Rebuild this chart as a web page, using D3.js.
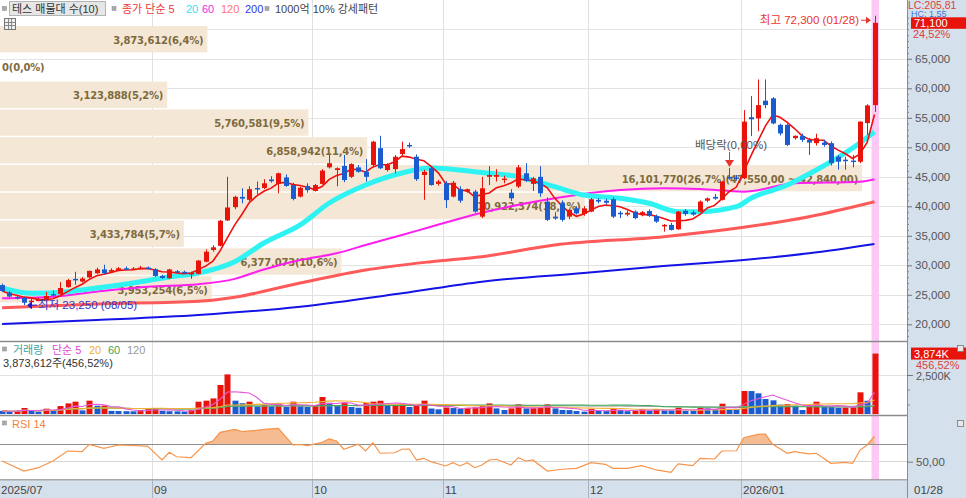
<!DOCTYPE html>
<html lang="ko">
<head>
<meta charset="utf-8">
<title>테스 일봉</title>
<script src="https://cdn.jsdelivr.net/npm/d3@7"></script>
<style>
  body { margin: 0; background: #fff; }
  #graf svg { display: block; }
</style>
</head>
<body>
<div id="graf"></div>
<script>
// ---- data ----
firstLabel = '2025/07'
monthIdx = [21, 43, 61, 81, 102]
monthLab = ['09', '10', '11', '12', '2026/01']
lastLabel = '01/28'

openP = [26650,25400,24650,24450,23800,24100,24000,25100,25150,26300,
  27700,27250,27950,28650,29300,28900,29200,29500,29400,29450,
  29600,29350,28200,27800,29000,28900,28600,28550,30600,32600,
  33300,37600,39850,41600,41100,43100,43100,44550,43800,44900,
  43600,41650,43450,42600,43800,46600,46150,46850,45000,46600,
  45850,47000,49850,46150,46300,48850,50400,48400,45300,46450,
  43800,43900,41650,42900,42500,42500,38250,45000,45000,44600,
  42300,43350,45600,43800,45000,40800,38250,40500,38250,39650,
  38700,39100,41100,40950,41200,38900,38600,39100,38600,39200,
  38350,36650,36850,36100,39250,38950,39100,40950,41600,41100,
  45000,44900,44750,55100,54900,57900,58300,53800,53800,51550,
  51900,51250,50700,50800,50700,48400,47900,47750,47550,54100,
  57150]
highP = [26900,25600,24900,24600,24300,24500,25500,25700,27150,27700,
  28900,28000,29100,29600,30100,29500,29700,29800,29700,29900,
  29800,29500,28400,29400,29200,29100,28900,30900,32700,33400,
  37700,45000,41800,43050,43400,44200,44600,45100,45700,45400,
  44000,43300,43900,43800,46300,48700,46600,48700,47300,47000,
  48000,51100,51950,47300,48700,50950,50800,48800,46200,46800,
  44500,44300,44300,43400,43000,42800,45000,46800,46300,45200,
  42900,47000,47300,45000,46800,41500,39000,41000,39500,40000,
  40000,41400,41400,41300,41500,39200,39300,39300,39200,39500,
  38600,37000,37200,39200,39500,39300,41000,41500,42100,44300,
  46500,45300,56300,58700,61500,61500,58500,54000,54000,52000,
  52300,51600,52300,51300,51000,48700,48400,48700,54400,57300,
  72300]
lowP = [25500,24500,24200,23250,23600,23900,23900,24700,25000,26200,
  26700,27100,27800,28500,28500,28800,29000,29300,29200,29300,
  29300,28000,27700,27700,28700,28600,27700,28450,30500,32300,
  33200,37500,39500,40500,40900,42000,42900,44000,42200,43300,
  41000,41500,42300,42500,43700,46400,43400,44100,44800,45700,
  44200,46800,46300,45900,45600,48600,49900,44300,41100,43500,
  43500,39700,41500,40600,42300,38900,38000,43600,44200,43900,
  40900,43100,44100,42600,41600,37500,37700,37400,37800,38600,
  38400,39000,40500,40300,38000,38000,38300,37800,38300,38200,
  37200,35700,35900,36000,38400,38400,39000,40700,41100,41000,
  44500,44400,44600,51900,52700,56600,53900,52000,50200,51300,
  50900,48700,50300,50100,46900,46200,46200,46600,47300,52100,
  56000]
closeP = [25650,24700,24400,23650,24000,24200,24800,25000,26150,27500,
  27600,27750,29050,29300,28650,29200,29500,29400,29450,29600,
  29400,28200,27850,29300,28800,28750,28700,30800,32300,33050,
  37550,39800,41600,41300,42900,43050,43900,44250,45600,43450,
  41250,43150,42750,43600,46050,47300,46450,44450,47150,45850,
  45000,50950,46450,47000,48400,49700,50150,44600,45850,43600,
  44200,41050,44000,40950,42900,39100,43050,45300,45300,44700,
  41350,46600,44350,44750,42200,37700,37950,37700,39400,38800,
  39650,41200,40800,40600,38250,38700,38900,38000,39000,38350,
  37400,36850,36000,39100,38700,38600,40800,41350,41300,44200,
  44700,44750,54350,54750,57150,57150,54050,52350,50400,51950,
  51250,50800,51550,50400,47300,47550,47700,47550,54350,57100,
  71100]
// volume in thousands of shares
volK = [200,150,200,385,200,150,340,200,510,680,
  790,230,855,530,540,200,190,180,170,260,
  330,340,200,180,170,160,250,790,855,1000,
  1860,2540,855,690,790,500,600,500,690,450,
  790,500,450,550,1090,720,550,720,450,400,
  720,790,850,550,600,650,450,520,855,350,
  300,420,380,330,400,420,510,680,360,256,
  360,620,360,370,380,620,360,256,250,190,
  150,320,190,185,320,256,180,200,320,190,
  320,230,225,400,210,205,400,360,320,660,
  320,310,1475,1470,1325,960,875,600,640,535,
  256,576,790,470,440,400,410,420,1390,849,
  3874]
volLast = 3873612

// longer moving averages (candle index, price)
ma20Idx = [0,4,9,13,18,23,27,32,36,41,45,50,55,59,66,71,76,80,85,89,93,96,101,103,108,112,117,120]
ma20Val = [26150,25250,25530,26150,27000,28020,28700,30610,33780,36840,40560,43620,45650,46490,45730,45020,43320,41920,41360,40510,39090,39090,39930,41360,43610,46150,49880,52650]
ma60Idx = [0,7,13,20,27,32,36,41,46,50,55,59,66,76,85,91,96,102,109,118,120]
ma60Val = [24410,24680,25530,26370,26800,27700,29300,30900,32030,33440,35140,36540,38900,41360,42760,43050,42930,42480,43900,44170,44580]
ma120Idx = [0,13,27,32,41,50,59,66,76,91,102,111,120]
ma120Val = [22810,23440,23900,24600,27000,29200,30610,31460,33440,34850,36440,38240,40780]
ma200Idx = [0,13,27,41,55,66,80,91,102,111,120]
ma200Val = [20050,20730,21580,22980,25250,27220,28700,29880,30900,32030,33610]

// RSI 14
rsiIdx = [0,3,5,7,9,11,12,14,16,20,22,23,24,26,28,29,30,32,33,35,36,38,40,41,42,44,45,46,47,49,
  50,51,52,54,55,56,57,58,59,61,62,63,64,65,66,67,68,70,71,72,73,75,77,79,81,83,84,86,88,90,
  92,93,95,96,98,99,101,102,104,105,106,108,109,111,112,114,116,117,118,119,120]
rsiVal = [50.8,39.3,43.1,50.8,62.3,61.5,70,65.4,69.2,68,52,60.8,55.7,54.6,71.1,73.8,83.8,87.2,84.5,86.1,87.2,88.4,69.2,70,68.4,72.3,76.1,73.8,64.3,70,
  62.3,71.8,59.7,60.3,64.3,64.6,52,53.9,50,45.1,48.9,45.1,48.9,43.1,46.2,52,52.8,46.2,54.6,50.8,52,39.3,41.3,42.4,48.9,47,42.4,42.4,45.4,40.5,
  37.8,47.4,45.4,53.9,53.1,62.3,62.6,77.6,81.5,81.8,70,59.7,61.5,58.9,59.7,48.2,49.3,48.2,63.4,69.2,79.5]

// volume profile (10 rows, top to bottom)
pvTop = [70600,65890,61180,56470,51760,47050,42340,37630,32920,28210]
pvBot = [65890,61180,56470,51760,47050,42340,37630,32920,28210,23500]
pvVol = [3873612,0,3123888,5760581,6858942,16101770,10922374,3433784,6377073,3953254]
pvPct = [6.4,0,5.2,9.5,11.4,26.7,18.1,5.7,10.6,6.5]
pvRange = [47550, 42840]   // range printed on the biggest row

priceTicks = [20000,25000,30000,35000,40000,45000,50000,55000,60000,65000]
gridTicks = [20000,25000,30000,35000,40000,45000,50000,55000,60000,65000,70000]

lowIdx = 3, lowDate = '08/05'
highIdx = 120, highDate = '01/28'
divIdx = 100
volRatio = '456,52%'
lastChg = '24,52%'
lcText = 'LC:205,81'
hcText = 'HC: 1,55'

// ---- setup ----
W = 966
H = 498
plotR = 907
red = '#e8140c'
blue = '#1a5cd0'
panelBg = '#d5e0ed'

svg = d3.select('#graf').append('svg')
  .attr('width', W)
  .attr('height', H)
  .style('font-family', "'Liberation Sans', 'Noto Sans CJK KR', sans-serif")

svg.append('rect').attr('width', W).attr('height', H).attr('fill', '#fff')

defs = svg.append('defs')
defs.append('clipPath').attr('id', 'clipMain')
  .append('rect').attr('x', 0).attr('y', 0).attr('width', plotR).attr('height', 341)
defs.append('clipPath').attr('id', 'clipVol')
  .append('rect').attr('x', 0).attr('y', 342).attr('width', plotR).attr('height', 73)

x = d3.scaleLinear().domain([0, closeP.length - 1]).range([2.1, 874.5])
y = d3.scaleLinear().domain([20000, 65000]).range([324.3, 58.8])
yVol = d3.scaleLinear().domain([0, 2500]).range([414, 375])
yRsi = d3.scaleLinear().domain([50, 70]).range([461.7, 444.3])
xPv = d3.scaleLinear().domain([0, d3.max(pvVol)]).range([0, 862])

px = i => Math.round(x(i))
fmtDec = (v, f) => d3.format(f)(v).replace(/\.(\d+)$/, ',$1')

// ---- grid ----
grid = svg.append('g')
grid.selectAll('line.h').data(gridTicks).join('line')
  .attr('class', 'h')
  .attr('x1', 0).attr('x2', plotR)
  .attr('y1', d => Math.round(y(d)) + 0.5).attr('y2', d => Math.round(y(d)) + 0.5)
  .attr('stroke', '#e3e3e3')
grid.selectAll('line.v').data(monthIdx).join('line')
  .attr('class', 'v')
  .attr('x1', d => px(d) - 2.5).attr('x2', d => px(d) - 2.5)
  .attr('y1', 0).attr('y2', 480)
  .attr('stroke', '#e0e0e0')
grid.append('line')
  .attr('x1', 0).attr('x2', plotR).attr('y1', 375.5).attr('y2', 375.5)
  .attr('stroke', '#e3e3e3')
grid.append('line')
  .attr('x1', 0).attr('x2', plotR).attr('y1', 461.5).attr('y2', 461.5)
  .attr('stroke', '#d6d6d6')

// ---- volume profile ----
pv = svg.append('g')
pv.selectAll('rect').data(pvVol).join('rect')
  .attr('x', 0)
  .attr('y', (d, k) => y(pvTop[k]) + 0.3)
  .attr('width', d => xPv(d))
  .attr('height', (d, k) => y(pvBot[k]) - y(pvTop[k]) - 1.5)
  .attr('fill', '#f4e7d5')
maxRow = pvVol.indexOf(d3.max(pvVol))
pv.selectAll('text').data(pvVol).join('text')
  .attr('x', d => xPv(d) < 60 ? 2 : xPv(d) - 4)
  .attr('y', (d, k) => (y(pvTop[k]) + y(pvBot[k])) / 2 + 4)
  .attr('text-anchor', d => xPv(d) < 60 ? 'start' : 'end')
  .attr('font-family', "'DejaVu Sans', sans-serif")
  .attr('font-weight', 'bold')
  .attr('font-size', '10px')
  .attr('letter-spacing', '-0.2px')
  .attr('fill', '#7f6a3e')
  .text((d, k) => d3.format(',')(d) + '(' + fmtDec(pvPct[k], '.1f') + '%)' +
    (k == maxRow ? '(' + fmtDec(pvRange[0], ',.2f') + ' ~ ' + fmtDec(pvRange[1], ',.2f') + ')' : ''))

// highlight of the last day
svg.append('rect')
  .attr('x', px(closeP.length - 1) - 3.5).attr('y', 0)
  .attr('width', 7.5).attr('height', 480)
  .attr('fill', '#fbc9f3')

// ---- moving averages ----
main = svg.append('g').attr('clip-path', 'url(#clipMain)')
curve = d3.line().x(d => x(d[0])).y(d => y(d[1])).curve(d3.curveMonotoneX)
maLines = [
  [ma200Idx, ma200Val, '#1414e6', 2],
  [ma120Idx, ma120Val, '#ff5a5a', 3],
  [ma60Idx, ma60Val, '#ff1ef0', 2],
  [ma20Idx, ma20Val, '#2ff2f2', 5]
]
maLines.forEach(m => {
  main.append('path')
    .attr('d', curve(m[0].map((i, k) => [i, m[1][k]])))
    .attr('fill', 'none')
    .attr('stroke', m[2])
    .attr('stroke-width', m[3])
})

// 5 day average from closes
ma5 = closeP.map((c, i) => d3.mean(closeP.slice(Math.max(0, i - 4), i + 1)))
main.append('path')
  .attr('d', d3.line().x((d, i) => x(i)).y(d => y(d))(ma5))
  .attr('fill', 'none')
  .attr('stroke', '#f01010')
  .attr('stroke-width', 1.6)

// ---- candles ----
candles = d3.range(closeP.length).map(i => ({ i: i, o: openP[i], h: highP[i], l: lowP[i], c: closeP[i] }))
cg = main.append('g')
cg.selectAll('line').data(candles).join('line')
  .attr('x1', d => px(d.i) + 0.5).attr('x2', d => px(d.i) + 0.5)
  .attr('y1', d => y(d.h)).attr('y2', d => y(d.l))
  .attr('stroke', d => d.c >= d.o ? red : blue)
cg.selectAll('rect').data(candles).join('rect')
  .attr('x', d => px(d.i) - 2)
  .attr('width', 5)
  .attr('y', d => y(Math.max(d.o, d.c)))
  .attr('height', d => Math.max(1.5, Math.abs(y(d.o) - y(d.c))))
  .attr('fill', d => d.c >= d.o ? red : blue)

// ---- annotations ----
ann = svg.append('g')
hx = px(highIdx), hy = y(highP[highIdx])
ann.append('text')
  .attr('x', hx - 16).attr('y', hy + 8.5)
  .attr('text-anchor', 'end')
  .attr('font-size', '11.5px')
  .attr('fill', '#e8342c')
  .text('최고 ' + d3.format(',')(highP[highIdx]) + ' (' + highDate + ')')
ann.append('line')
  .attr('x1', hx - 14).attr('x2', hx - 8)
  .attr('y1', hy + 4.5).attr('y2', hy + 4.5)
  .attr('stroke', '#e8342c')
ann.append('path')
  .attr('d', `M${hx - 9},${hy + 1} L${hx - 4},${hy + 4.5} L${hx - 9},${hy + 8} Z`)
  .attr('fill', '#e8342c')

lx = px(lowIdx), ly = y(lowP[lowIdx])
ann.append('path')
  .attr('d', `M${lx + 3},${ly} L${lx + 8},${ly - 4} L${lx + 8},${ly + 4} Z`)
  .attr('fill', '#1c1cc8')
ann.append('line')
  .attr('x1', lx + 8).attr('x2', lx + 13)
  .attr('y1', ly).attr('y2', ly)
  .attr('stroke', '#1c1cc8')
ann.append('text')
  .attr('x', lx + 14).attr('y', ly + 4)
  .attr('font-size', '11.5px')
  .attr('fill', '#3434c8')
  .text('최저 ' + d3.format(',')(lowP[lowIdx]) + ' (' + lowDate + ')')

dx = px(divIdx), dy = y(highP[divIdx])
ann.append('text')
  .attr('x', dx - 34).attr('y', dy - 19)
  .attr('font-size', '11.5px')
  .attr('fill', '#555')
  .text('배당락(0,00%)')
ann.append('line')
  .attr('x1', dx + 0.5).attr('x2', dx + 0.5)
  .attr('y1', dy - 16).attr('y2', dy - 6)
  .attr('stroke', '#e8342c')
ann.append('path')
  .attr('d', `M${dx - 4},${dy - 8} L${dx + 5},${dy - 8} L${dx + 0.5},${dy - 1} Z`)
  .attr('fill', '#e8342c')

// ---- volume panel ----
vg = svg.append('g').attr('clip-path', 'url(#clipVol)')
vg.selectAll('rect').data(volK).join('rect')
  .attr('x', (d, i) => px(i) - 2.5)
  .attr('width', 6)
  .attr('y', d => yVol(d))
  .attr('height', d => yVol(0) - yVol(d))
  .attr('fill', (d, i) => i > 0 && d >= volK[i - 1] ? red : blue)

volMa = (n) => volK.map((v, i) => d3.mean(volK.slice(Math.max(0, i - n + 1), i + 1)))
volLine = d3.line().x((d, i) => x(i)).y(d => yVol(d))
;[[120, '#b4b4b4'], [60, '#3fa85a'], [20, '#f2b233'], [5, '#e45ad8']].forEach(m => {
  vg.append('path')
    .attr('d', volLine(volMa(m[0])))
    .attr('fill', 'none')
    .attr('stroke', m[1])
    .attr('stroke-width', 1.1)
})

// ---- RSI panel ----
rsiPts = rsiIdx.map((i, k) => [i, rsiVal[k]])
defs.append('clipPath').attr('id', 'clipRsi')
  .append('rect').attr('x', 0).attr('y', 416).attr('width', plotR).attr('height', yRsi(70) - 416)
svg.append('path')
  .attr('clip-path', 'url(#clipRsi)')
  .attr('d', d3.area().x(d => x(d[0])).y0(yRsi(70)).y1(d => yRsi(d[1]))(rsiPts))
  .attr('fill', '#f5bc92')
svg.append('line')
  .attr('x1', 0).attr('x2', plotR).attr('y1', 444.5).attr('y2', 444.5)
  .attr('stroke', '#8e8e8e')
svg.append('path')
  .attr('d', d3.line().x(d => x(d[0])).y(d => yRsi(d[1]))(rsiPts))
  .attr('fill', 'none')
  .attr('stroke', '#f7944a')
  .attr('stroke-width', 1.2)

// ---- panel borders ----
;[341.5, 415.5, 480].forEach(v => {
  svg.append('line')
    .attr('x1', 0).attr('x2', plotR).attr('y1', v).attr('y2', v)
    .attr('stroke', '#8c8c8c').attr('stroke-width', 1.5)
})

// ---- legends ----
sq = (g, x0, y0) => g.append('rect').attr('x', x0).attr('y', y0).attr('width', 4).attr('height', 4)
  .attr('fill', '#aaa').attr('stroke', '#888').attr('stroke-width', 0.5)
leg = svg.append('g').attr('font-size', '11px')
sq(leg, 2.5, 6.5)
leg.append('rect').attr('x', 9.5).attr('y', 1.5).attr('width', 96).attr('height', 14)
  .attr('fill', '#e6e6e6').attr('stroke', '#b4b4b4')
leg.append('text').attr('x', 12).attr('y', 13).attr('fill', '#333').text('테스 매물대 수(10)')
sq(leg, 112, 6.5)
legItems = [['종가 단순 5', 122, '#f03a3a'], ['20', 186, '#2fe0ee'], ['60', 202, '#f028e8'],
  ['120', 221, '#ff7474'], ['200', 245, '#3232f0']]
legItems.forEach(t => leg.append('text').attr('x', t[1]).attr('y', 13).attr('fill', t[2]).text(t[0]))
sq(leg, 265, 6.5)
leg.append('text').attr('x', 275).attr('y', 13).attr('fill', '#444').text('1000억 10% 강세패턴')

// little table icon
ic = svg.append('g')
ic.append('rect').attr('x', 4.5).attr('y', 18.5).attr('width', 11).attr('height', 11)
  .attr('fill', '#f0f0f0').attr('stroke', '#777')
;[22.5, 25.5].forEach(v => ic.append('line').attr('x1', 5).attr('x2', 15).attr('y1', v).attr('y2', v).attr('stroke', '#888'))
;[8.5, 11.5].forEach(v => ic.append('line').attr('x1', v).attr('x2', v).attr('y1', 19).attr('y2', 29).attr('stroke', '#888'))

vleg = svg.append('g').attr('font-size', '11px')
sq(vleg, 2.5, 347)
;[['거래량', 13, '#3aa3a3'], ['단순 5', 52, '#e04ad8'], ['20', 89, '#f0b030'],
  ['60', 108, '#3aa85a'], ['120', 127, '#999']].forEach(t =>
  vleg.append('text').attr('x', t[1]).attr('y', 354).attr('fill', t[2]).text(t[0]))
vleg.append('text').attr('x', 3).attr('y', 367).attr('fill', '#333')
  .text(d3.format(',')(volLast) + '주(' + volRatio + ')')

sq(svg, 2.5, 421)
svg.append('text').attr('x', 12).attr('y', 428).attr('font-size', '11px')
  .attr('fill', '#f08040').text('RSI 14')

// ---- right axis panel ----
svg.append('rect').attr('x', plotR).attr('y', 0).attr('width', W - plotR).attr('height', H).attr('fill', panelBg)
svg.append('rect').attr('x', 0).attr('y', 480.5).attr('width', plotR).attr('height', H - 480).attr('fill', panelBg)
svg.append('line').attr('x1', plotR + 0.5).attr('x2', plotR + 0.5).attr('y1', 0).attr('y2', H)
  .attr('stroke', '#8c8c8c')

yAxis = d3.axisRight(y).tickValues(priceTicks).tickSize(5).tickPadding(3)
  .tickFormat(d3.format(','))
ax = svg.append('g').attr('transform', `translate(${plotR},0)`).call(yAxis)
ax.select('.domain').remove()
ax.selectAll('text').attr('font-size', '11.5px').attr('fill', '#555')
  .attr('font-family', "'Liberation Sans', sans-serif")
ax.selectAll('line').attr('stroke', '#777')
minor = d3.axisRight(y).tickValues(d3.range(18000, 72001, 1000)).tickSize(2).tickFormat('')
mx = svg.append('g').attr('transform', `translate(${plotR},0)`).call(minor)
mx.select('.domain').remove()
mx.selectAll('line').attr('stroke', '#888')

rp = svg.append('g').attr('font-size', '11px')
rp.append('text').attr('x', 908).attr('y', 8.5).attr('font-size', '10.5px').attr('fill', '#e0403c').text(lcText)
rp.append('text').attr('x', 911).attr('y', 16.5).attr('font-size', '9px').attr('fill', '#3a78d8').text(hcText)
cy = y(closeP[closeP.length - 1])
rp.append('rect').attr('x', 911).attr('y', cy - 5.5).attr('width', 55).attr('height', 11.5).attr('fill', red)
rp.append('text').attr('x', 914).attr('y', cy + 4.5).attr('fill', '#fff').text(d3.format(',')(closeP[closeP.length - 1]))
rp.append('text').attr('x', 913).attr('y', cy + 15).attr('fill', '#e0403c').text(lastChg)

vy = yVol(volK[volK.length - 1])
rp.append('rect').attr('x', 911).attr('y', vy - 6).attr('width', 55).attr('height', 12).attr('fill', red)
rp.append('text').attr('x', 914).attr('y', vy + 4.5).attr('fill', '#fff').text(d3.format(',')(volK[volK.length - 1]) + 'K')
rp.append('text').attr('x', 916).attr('y', vy + 15).attr('fill', '#e0403c').text(volRatio)
rp.append('line').attr('x1', plotR).attr('x2', plotR + 6).attr('y1', yVol(2500) + 0.5).attr('y2', yVol(2500) + 0.5).attr('stroke', '#777')
rp.append('text').attr('x', 916).attr('y', yVol(2500) + 4.5).attr('fill', '#555').text('2,500K')
;[390, 405].forEach(v => rp.append('line').attr('x1', plotR).attr('x2', plotR + 3).attr('y1', v).attr('y2', v).attr('stroke', '#888'))

rp.append('line').attr('x1', plotR).attr('x2', plotR + 6).attr('y1', yRsi(50) + 0.5).attr('y2', yRsi(50) + 0.5).attr('stroke', '#777')
rp.append('text').attr('x', 916).attr('y', yRsi(50) + 4.5).attr('font-size', '11.5px').attr('fill', '#555').text(fmtDec(50, '.2f'))

;[345, 420].forEach(v => {
  rp.append('rect').attr('x', 957.5).attr('y', v + 0.5).attr('width', 6).attr('height', 6)
    .attr('fill', '#e8e8e8').attr('stroke', '#777').attr('stroke-width', 0.8)
})

// ---- date axis ----
xa = svg.append('g').attr('font-size', '11.5px').attr('fill', '#444')
xa.selectAll('line').data(monthIdx).join('line')
  .attr('x1', d => px(d) - 2.5).attr('x2', d => px(d) - 2.5)
  .attr('y1', 480).attr('y2', H)
  .attr('stroke', '#a9b3c0')
xa.selectAll('text.m').data(monthIdx).join('text')
  .attr('class', 'm')
  .attr('x', d => px(d) - 1)
  .attr('y', 494)
  .text((d, k) => monthLab[k])
xa.append('text').attr('x', 1).attr('y', 494).text(firstLabel)
xa.append('text').attr('x', 914).attr('y', 494).text(lastLabel)
</script>
</body>
</html>
